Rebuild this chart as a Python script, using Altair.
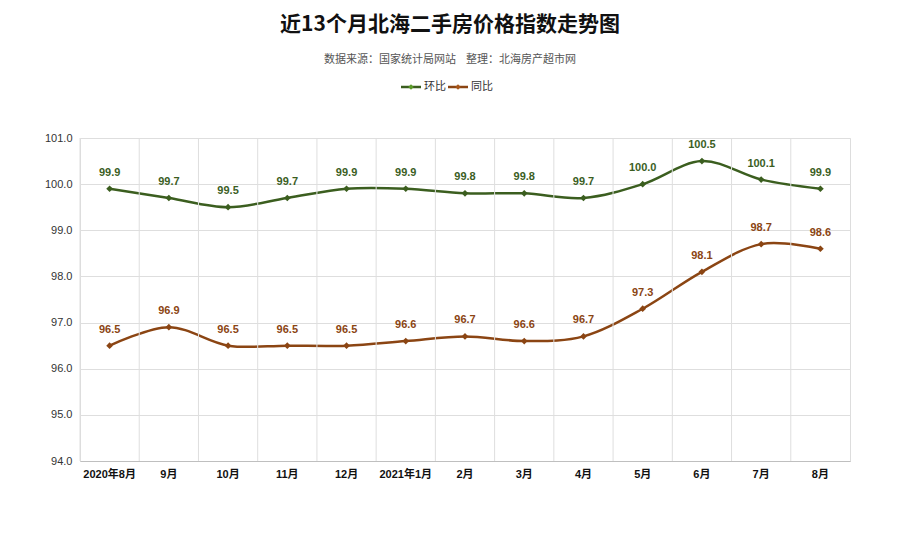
import altair as alt
import pandas as pd

months = ["2020年8月", "9月", "10月", "11月", "12月", "2021年1月", "2月", "3月", "4月", "5月", "6月", "7月", "8月"]
huanbi = [99.9, 99.7, 99.5, 99.7, 99.9, 99.9, 99.8, 99.8, 99.7, 100.0, 100.5, 100.1, 99.9]
tongbi = [96.5, 96.9, 96.5, 96.5, 96.5, 96.6, 96.7, 96.6, 96.7, 97.3, 98.1, 98.7, 98.6]
series_names = ["环比", "同比"]
y_ticks = [94, 95, 96, 97, 98, 99, 100, 101]

title_text = "近13个月北海二手房价格指数走势图"
subtitle_text = "数据来源：国家统计局网站\u00a0\u00a0\u00a0\u00a0整理：北海房产超市网"

FONT = "Arial, Liberation Sans, Noto Sans CJK SC"
line_colors = ["#3b5e1f", "#8b4513"]
point_colors = ["#5a9a28", "#a8561a"]

rows = []
for name, vals in zip(series_names, [huanbi, tongbi]):
    for m, v in zip(months, vals):
        rows.append({"month": m, "value": v, "series": name})
df = pd.DataFrame(rows)
grid_df = pd.DataFrame({"month": months})

W, H = 770, 323

xenc = alt.X("month:N", sort=months, scale=alt.Scale(paddingInner=0, paddingOuter=0),
             axis=alt.Axis(title=None, labelAngle=0, labelFont=FONT, labelFontWeight="bold",
                           labelFontSize=11, labelColor="#111", ticks=False, grid=False,
                           domainColor="#bfbfbf", labelPadding=7, bandPosition=0.5,
                           labelOverlap=False))
yenc = alt.Y("value:Q", scale=alt.Scale(domain=[94, 101], nice=False, zero=False),
             axis=alt.Axis(title=None, values=y_ticks, format=".1f", labelFont=FONT,
                           labelFontSize=11, labelColor="#333", ticks=False, domain=False,
                           gridColor="#dedede", labelPadding=8))

lines = alt.Chart(df).mark_line(interpolate="cardinal", strokeWidth=2.5).encode(
    x=xenc, y=yenc, color=alt.Color("series:N", scale=alt.Scale(domain=series_names, range=line_colors), legend=None),
    detail="series:N"
)
grid = alt.Chart(grid_df).mark_rule(color="#dedede", strokeWidth=1).encode(
    x=alt.X("month:N", sort=months, bandPosition=0)
)
points = alt.Chart(df).mark_point(shape="diamond", filled=True, size=45, opacity=1).encode(
    x=alt.X("month:N", sort=months), y="value:Q",
    color=alt.Color("series:N", scale=alt.Scale(domain=series_names, range=point_colors), legend=None)
)
labels = alt.Chart(df).mark_text(dy=-16, font=FONT, fontWeight="bold", fontSize=11).encode(
    x=alt.X("month:N", sort=months), y="value:Q",
    text=alt.Text("value:Q", format=".1f"),
    color=alt.Color("series:N", scale=alt.Scale(domain=series_names, range=line_colors), legend=None)
)

one = grid_df.head(1)
t1 = alt.Chart(one).mark_text(font="Noto Sans CJK SC", fontWeight="bold", fontSize=21,
                              color="#111", baseline="middle").encode(
    x=alt.value(370), y=alt.value(-113), text=alt.value(title_text))
t2 = alt.Chart(one).mark_text(font="Noto Sans CJK SC", fontSize=11,
                              color="#555", baseline="middle").encode(
    x=alt.value(370), y=alt.value(-78), text=alt.value(subtitle_text))

leg_layers = []
for x0, i in [(321, 0), (368, 1)]:
    leg_layers.append(alt.Chart(one).mark_rule(color=line_colors[i], strokeWidth=2.5).encode(
        x=alt.value(x0), x2=alt.value(x0 + 20), y=alt.value(-51)))
    leg_layers.append(alt.Chart(one).mark_point(shape="diamond", filled=True, size=30,
                                                color=point_colors[i], opacity=1).encode(
        x=alt.value(x0 + 10), y=alt.value(-51)))
    leg_layers.append(alt.Chart(one).mark_text(font="Noto Sans CJK SC", fontSize=11,
                                               color="#333", align="left", baseline="middle").encode(
        x=alt.value(x0 + 23), y=alt.value(-51), text=alt.value(series_names[i])))

chart = alt.layer(lines, grid, points, labels, t1, t2, *leg_layers).properties(
    width=W, height=H,
    autosize=alt.AutoSizeParams(type="none"),
    padding={"left": 72, "top": 130, "right": 20, "bottom": 50},
).configure_view(stroke="#dedede").configure(background="white")

chart.save("out.html", embed_options={"renderer": "svg", "actions": False})
